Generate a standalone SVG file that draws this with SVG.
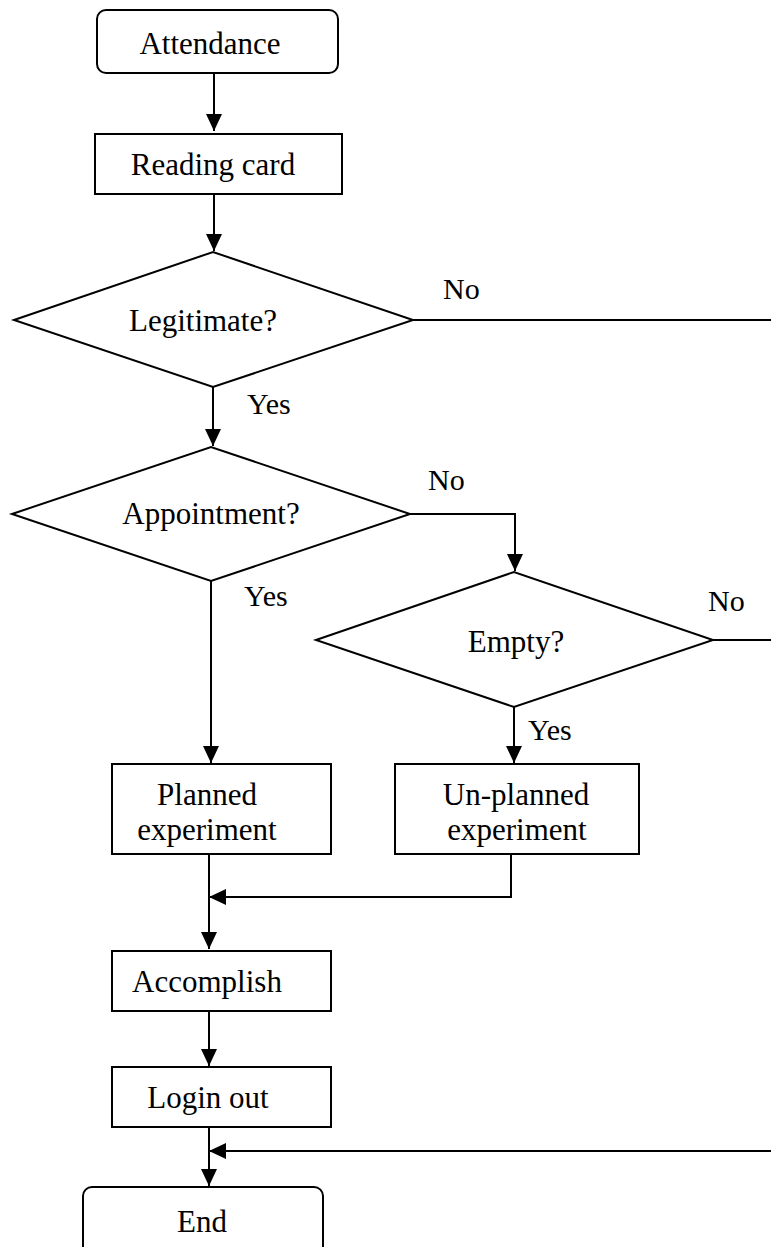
<svg xmlns="http://www.w3.org/2000/svg" width="771" height="1247" viewBox="0 0 771 1247">
<style>
.n{fill:#fff;stroke:#000;stroke-width:2}
.t{font-family:"Liberation Serif","Times New Roman",serif;font-size:31px;fill:#000;text-anchor:middle}
.l{font-family:"Liberation Serif","Times New Roman",serif;font-size:30px;fill:#000}
.c{fill:none;stroke:#000;stroke-width:2}
</style>
<defs>
<marker id="a" markerUnits="userSpaceOnUse" markerWidth="17" markerHeight="16" refX="17" refY="8" orient="auto">
<path d="M0,0 L17,8 L0,16 z" fill="#000"/>
</marker>
</defs>
<rect width="771" height="1247" fill="#fff"/>
<g id="connectors">
<line class="c" x1="214" y1="73" x2="214" y2="131" marker-end="url(#a)"/>
<line class="c" x1="214" y1="194" x2="214" y2="251" marker-end="url(#a)"/>
<line class="c" x1="413" y1="320" x2="771" y2="320"/>
<line class="c" x1="213" y1="387" x2="213" y2="446" marker-end="url(#a)"/>
<polyline class="c" points="410,514 515,514 515,571" marker-end="url(#a)"/>
<line class="c" x1="713" y1="640" x2="771" y2="640"/>
<line class="c" x1="211" y1="581" x2="211" y2="763" marker-end="url(#a)"/>
<line class="c" x1="514" y1="707" x2="514" y2="763" marker-end="url(#a)"/>
<polyline class="c" points="511,854 511,897 209,897" marker-end="url(#a)"/>
<line class="c" x1="209" y1="854" x2="209" y2="949" marker-end="url(#a)"/>
<line class="c" x1="209" y1="1011" x2="209" y2="1066" marker-end="url(#a)"/>
<line class="c" x1="771" y1="1151" x2="209" y2="1151" marker-end="url(#a)"/>
<line class="c" x1="209" y1="1127" x2="209" y2="1186" marker-end="url(#a)"/>
<text class="l" x="443" y="299">No</text>
<text class="l" x="247" y="414">Yes</text>
<text class="l" x="428" y="490">No</text>
<text class="l" x="244" y="606">Yes</text>
<text class="l" x="708" y="611">No</text>
<text class="l" x="528" y="740">Yes</text>
</g>
<g id="attendance"><rect class="n" x="97" y="10" width="241" height="63" rx="9"/><text class="t" x="210" y="54">Attendance</text></g>
<g id="reading"><rect class="n" x="95" y="134" width="247" height="60"/><text class="t" x="213" y="175">Reading card</text></g>
<g id="legitimate"><polygon class="n" points="14,320 213,252 413,320 213,387"/><text class="t" x="203" y="331">Legitimate?</text></g>
<g id="appointment"><polygon class="n" points="12,514 211,447 410,514 211,581"/><text class="t" x="211" y="524">Appointment?</text></g>
<g id="empty"><polygon class="n" points="316,640 514,572 713,640 514,707"/><text class="t" x="516" y="652">Empty?</text></g>
<g id="planned"><rect class="n" x="112" y="764" width="219" height="90"/><text class="t" x="207" y="805">Planned</text><text class="t" x="207" y="840">experiment</text></g>
<g id="unplanned"><rect class="n" x="395" y="764" width="244" height="90"/><text class="t" x="516" y="805">Un-planned</text><text class="t" x="517" y="840">experiment</text></g>
<g id="accomplish"><rect class="n" x="112" y="951" width="219" height="60"/><text class="t" x="207" y="992">Accomplish</text></g>
<g id="loginout"><rect class="n" x="112" y="1067" width="219" height="60"/><text class="t" x="208" y="1108">Login out</text></g>
<g id="end"><rect class="n" x="83" y="1187" width="240" height="80" rx="9"/><text class="t" x="202" y="1232">End</text></g>
</svg>
